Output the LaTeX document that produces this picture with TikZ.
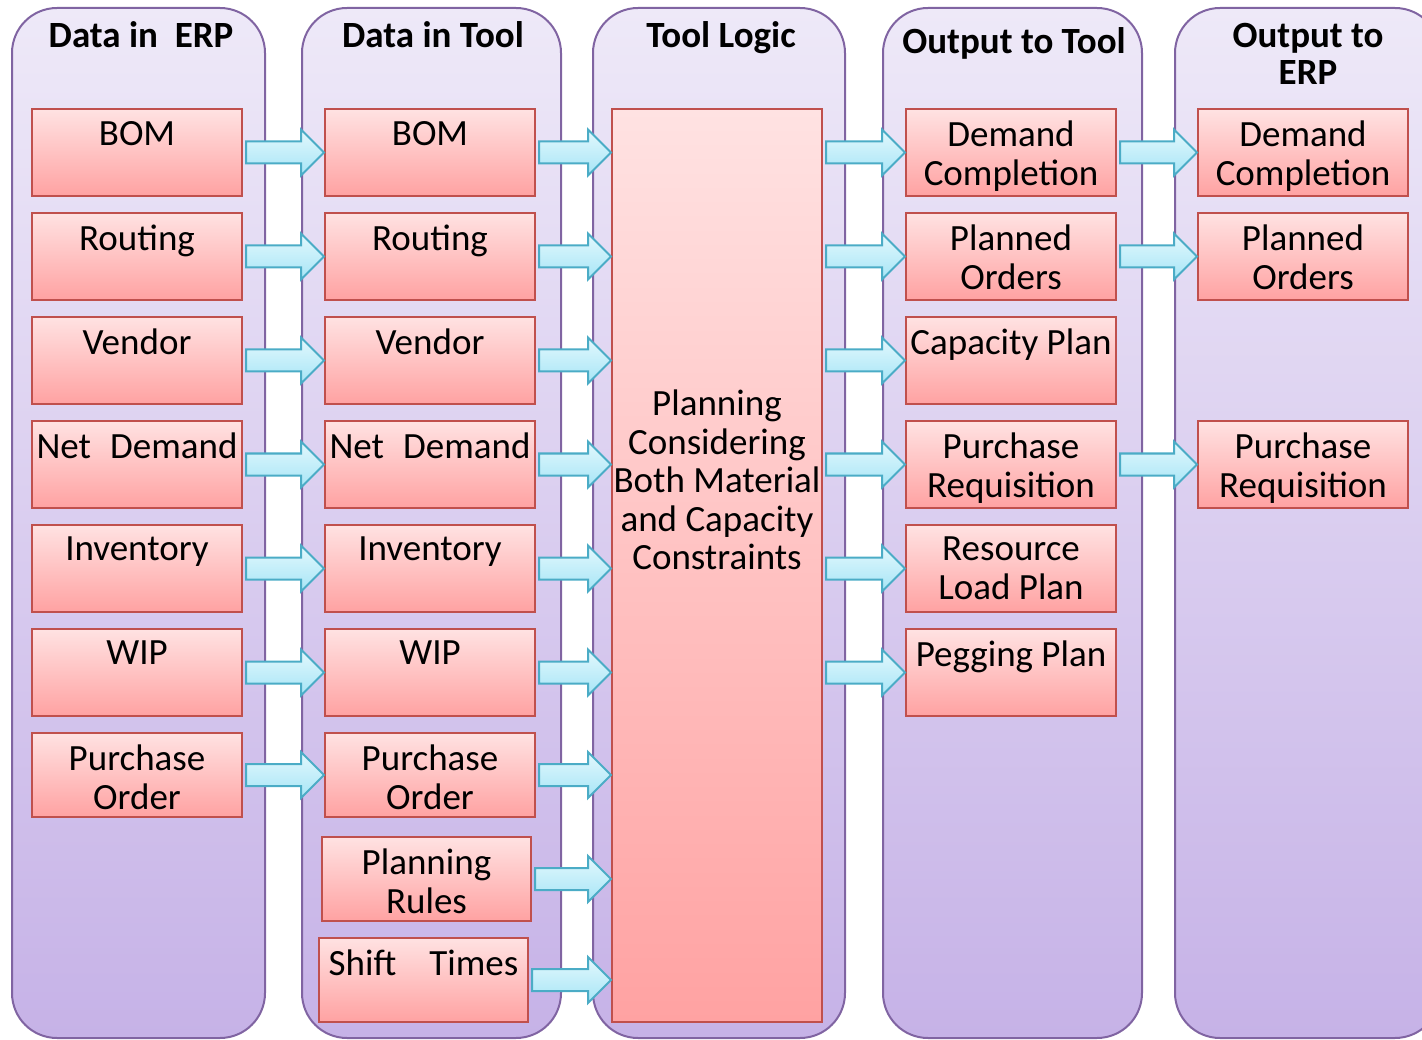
\documentclass[tikz,border=0pt]{standalone}
\usepackage{fontspec}
\setmainfont{Carlito}
\usetikzlibrary{calc}
\definecolor{pborder}{HTML}{8064A2}
\definecolor{ptop}{HTML}{EEE9F8}
\definecolor{pbot}{HTML}{C6B2E7}
\definecolor{rborder}{HTML}{C0504D}
\definecolor{rtop}{HTML}{FFE2E2}
\definecolor{rbot}{HTML}{FFA2A2}
\definecolor{aborder}{HTML}{4BACC6}
\definecolor{arrtop}{HTML}{E3F8FD}
\definecolor{arrbot}{HTML}{A6E5F6}
\tikzset{
 panel/.style={draw=pborder, line width=2pt, rounded corners=45pt, top color=ptop, bottom color=pbot, inner sep=0pt, outer sep=0pt},
 redbox/.style={draw=rborder, line width=2pt, top color=rtop, bottom color=rbot, inner sep=0pt, outer sep=0pt},
 btext/.style={anchor=north, inner sep=0pt, align=center, font=\fontsize{37}{38.5}\selectfont},
 htext/.style={inner sep=0pt, align=center, font=\fontsize{37}{37}\selectfont\bfseries},
 blockarrow/.style={draw=aborder, line width=2pt, top color=arrtop, bottom color=arrbot, line join=miter},
}
\newcommand\mkbox[6]{%
 \node[redbox, minimum width={(#4)-(#2)}, minimum height={(#5)-(#3)}] (#1) at ({((#2)+(#4))/2},{((#3)+(#5))/2}) {};
 \node[btext] (#1-t) at ([yshift=-12pt]#1.north) {#6};}
\newcommand\mkarrow[3]{%
 \path[blockarrow] let \p1=(#1.east), \p2=(#2.west), \p3=(#3.center) in
  ({\x1+4pt},{\y3+11pt}) -- ({\x2-24pt},{\y3+11pt}) -- ({\x2-24pt},{\y3+23pt}) -- ({\x2-1pt},{\y3}) -- ({\x2-24pt},{\y3-23pt}) -- ({\x2-24pt},{\y3-11pt}) -- ({\x1+4pt},{\y3-11pt}) -- cycle;}
\begin{document}
\begin{tikzpicture}[x=1pt,y=-1pt]
\useasboundingbox (0,0) rectangle (1422,1040);
% panels
\node[panel, minimum width=253, minimum height=1030] (P1) at (138.5,523) {};
\node[panel, minimum width=259, minimum height=1030] (P2) at (431.5,523) {};
\node[panel, minimum width=252, minimum height=1030] (P3) at (719,523) {};
\node[panel, minimum width=259, minimum height=1030] (P4) at (1012.5,523) {};
\node[panel, minimum width=265, minimum height=1030] (P5) at (1307.5,523) {};
% headings
\node[htext, anchor=base] (h1) at (141,48) {Data in\ \ ERP};
\node[htext, anchor=base] (h2) at (433,48) {Data in Tool};
\node[htext, anchor=base] (h3) at (721,48) {Tool Logic};
\node[htext, anchor=base] (h4) at (1014,54) {Output to Tool};
\node[htext, anchor=north] (h5) at (1308,23) {Output to\\ERP};
% column 1
\mkbox{e1}{32}{109}{242}{196}{BOM}
\mkbox{e2}{32}{213}{242}{300}{Routing}
\mkbox{e3}{32}{317}{242}{404}{Vendor}
\mkbox{e4}{32}{421}{242}{508}{Net\hspace{19pt}Demand}
\mkbox{e5}{32}{525}{242}{612}{Inventory}
\mkbox{e6}{32}{629}{242}{716}{WIP}
\mkbox{e7}{32}{733}{242}{817}{Purchase\\Order}
% column 2
\mkbox{t1}{325}{109}{535}{196}{BOM}
\mkbox{t2}{325}{213}{535}{300}{Routing}
\mkbox{t3}{325}{317}{535}{404}{Vendor}
\mkbox{t4}{325}{421}{535}{508}{Net\hspace{19pt}Demand}
\mkbox{t5}{325}{525}{535}{612}{Inventory}
\mkbox{t6}{325}{629}{535}{716}{WIP}
\mkbox{t7}{325}{733}{535}{817}{Purchase\\Order}
\mkbox{t8}{322}{837}{531}{921}{Planning\\Rules}
\mkbox{t9}{319}{938}{528}{1022}{Shift\hspace{33pt}Times}
% column 3
\node[redbox, minimum width=210, minimum height=913] (L) at (717,565.5) {};
\node[btext] (Lt) at (717,390) {Planning\\Considering\\Both Material\\and Capacity\\Constraints};
% column 4
\mkbox{o1}{906}{109}{1116}{196}{Demand\\Completion}
\mkbox{o2}{906}{213}{1116}{300}{Planned\\Orders}
\mkbox{o3}{906}{317}{1116}{404}{Capacity Plan}
\mkbox{o4}{906}{421}{1116}{508}{Purchase\\Requisition}
\mkbox{o5}{906}{525}{1116}{612}{Resource\\Load Plan}
\mkbox{o6}{906}{629}{1116}{716}{Pegging Plan}
% column 5
\mkbox{f1}{1198}{109}{1408}{196}{Demand\\Completion}
\mkbox{f2}{1198}{213}{1408}{300}{Planned\\Orders}
\mkbox{f3}{1198}{421}{1408}{508}{Purchase\\Requisition}
% arrows
\foreach \i in {1,...,7} {\mkarrow{e\i}{t\i}{e\i}}
\foreach \i in {1,...,9} {\mkarrow{t\i}{L}{t\i}}
\foreach \i in {1,...,6} {\mkarrow{L}{o\i}{o\i}}
\mkarrow{o1}{f1}{o1}
\mkarrow{o2}{f2}{o2}
\mkarrow{o4}{f3}{o4}
\end{tikzpicture}
\end{document}
